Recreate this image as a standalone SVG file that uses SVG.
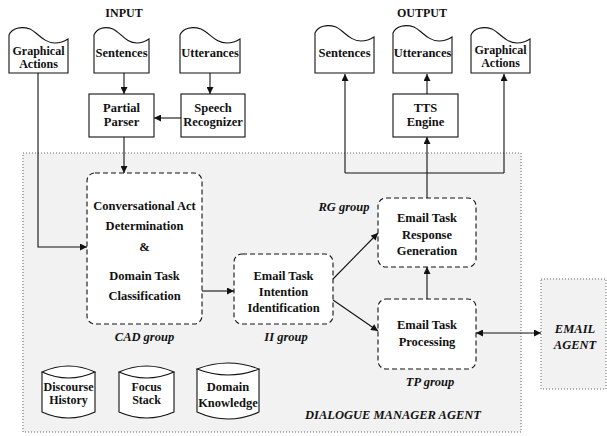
<svg xmlns="http://www.w3.org/2000/svg" width="607" height="436" viewBox="0 0 607 436">
<style>
text{font-family:"Liberation Serif","Times New Roman",serif;font-weight:bold;font-size:12.5px;text-anchor:middle;fill:#111}
.it{font-style:italic}
.hd{font-size:12px}
.sm{font-size:12px}
.doc,.box,.cyl{fill:#fff;stroke:#111;stroke-width:1.1}
.dash{fill:#fff;stroke:#111;stroke-width:1.1;stroke-dasharray:5 3}
.area{fill:#f2f2f2;stroke:#666;stroke-width:1;stroke-dasharray:1 2}
.c{fill:none;stroke:#111;stroke-width:1.1}
.a{marker-end:url(#ah)}
</style>
<defs>
<marker id="ah" viewBox="0 0 10 10" refX="10" refY="5" markerWidth="8" markerHeight="7" markerUnits="userSpaceOnUse" orient="auto"><path d="M0,0 L10,5 L0,10 Z" fill="#111"/></marker>
<marker id="as" viewBox="0 0 10 10" refX="10" refY="5" markerWidth="8" markerHeight="7" markerUnits="userSpaceOnUse" orient="auto-start-reverse"><path d="M0,0 L10,5 L0,10 Z" fill="#111"/></marker>
</defs>

<g id="dialogue-manager-agent">
<rect class="area" x="23" y="153" width="498" height="279"/>
<text class="it" x="393" y="419">DIALOGUE MANAGER AGENT</text>
</g>
<g id="email-agent">
<rect class="area" x="541" y="279" width="65" height="110"/>
<text class="it" x="575" y="333">EMAIL</text>
<text class="it" x="575" y="349">AGENT</text>
</g>

<text class="hd" x="124" y="17">INPUT</text>
<text class="hd" x="422" y="17">OUTPUT</text>

<g id="in-graphical-actions">
<path class="doc" d="M9,73 V35 C12,28 21,26 30,29 C38,33 44,43 55,43 C61,43 65,41 68,39 V73 Z"/>
<text class="sm" x="38.5" y="55">Graphical</text><text class="sm" x="38.5" y="68">Actions</text>
</g>
<g id="in-sentences">
<path class="doc" d="M94,73 V35 C97,28 105,26 113,29 C121,33 126,43 137,43 C142,43 146,41 149,39 V73 Z"/>
<text x="121.5" y="57">Sentences</text>
</g>
<g id="in-utterances">
<path class="doc" d="M180,73 V35 C183,28 192,26 201,29 C210,33 215,43 227,43 C233,43 237,41 240,39 V73 Z"/>
<text x="210" y="57">Utterances</text>
</g>
<g id="out-sentences">
<path class="doc" d="M315,73 V33 C318,26 327,24 336,27 C344,31 350,41 361,41 C367,41 371,39 374,37 V73 Z"/>
<text x="344.5" y="57">Sentences</text>
</g>
<g id="out-utterances">
<path class="doc" d="M393,73 V33 C396,26 405,24 414,27 C422,31 428,41 439,41 C445,41 449,39 452,37 V73 Z"/>
<text x="422.5" y="57">Utterances</text>
</g>
<g id="out-graphical-actions">
<path class="doc" d="M471,73 V35 C474,28 483,26 492,29 C500,33 506,43 517,43 C523,43 527,41 530,39 V73 Z"/>
<text class="sm" x="500.5" y="54">Graphical</text><text class="sm" x="500.5" y="67">Actions</text>
</g>

<g id="partial-parser">
<rect class="box" x="89" y="94" width="65" height="43"/>
<text x="121.5" y="112">Partial</text><text x="121.5" y="126">Parser</text>
</g>
<g id="speech-recognizer">
<rect class="box" x="181" y="94" width="64" height="43"/>
<text x="213" y="112">Speech</text><text x="213" y="126">Recognizer</text>
</g>
<g id="tts-engine">
<rect class="box" x="393" y="94" width="65" height="43"/>
<text x="425.5" y="112">TTS</text><text x="425.5" y="126">Engine</text>
</g>

<g id="cad">
<rect class="dash" x="87" y="173" width="115" height="151" rx="8"/>
<text x="144.5" y="210">Conversational Act</text>
<text x="144.5" y="230">Determination</text>
<text x="144.5" y="251">&amp;</text>
<text x="144.5" y="280">Domain Task</text>
<text x="144.5" y="300">Classification</text>
<text class="it" x="144.5" y="341">CAD group</text>
</g>
<g id="ii">
<rect class="dash" x="234" y="254" width="99" height="70" rx="8"/>
<text x="283.5" y="280">Email Task</text>
<text x="283.5" y="296">Intention</text>
<text x="283.5" y="312">Identification</text>
<text class="it" x="286" y="341">II group</text>
</g>
<g id="rg">
<rect class="dash" x="378" y="198" width="98" height="69" rx="8"/>
<text x="427" y="222">Email Task</text>
<text x="427" y="239">Response</text>
<text x="427" y="255">Generation</text>
<text class="it" x="344" y="211">RG group</text>
</g>
<g id="tp">
<rect class="dash" x="378" y="299" width="98" height="70" rx="8"/>
<text x="427" y="329">Email Task</text>
<text x="427" y="346">Processing</text>
<text class="it" x="430" y="386">TP group</text>
</g>

<g id="discourse-history">
<path class="cyl" d="M42,372 V412 Q68.5,424 95,412 V372"/>
<path class="cyl" d="M42,372 Q68.5,360 95,372 Q68.5,384 42,372 Z"/>
<text class="sm" x="68.5" y="391">Discourse</text><text class="sm" x="68.5" y="404">History</text>
</g>
<g id="focus-stack">
<path class="cyl" d="M119,372 V412 Q146.5,424 174,412 V372"/>
<path class="cyl" d="M119,372 Q146.5,360 174,372 Q146.5,384 119,372 Z"/>
<text class="sm" x="146.5" y="391">Focus</text><text class="sm" x="146.5" y="404">Stack</text>
</g>
<g id="domain-knowledge">
<path class="cyl" d="M197,369 V412 Q228,426 259,412 V369"/>
<path class="cyl" d="M197,369 Q228,357 259,369 Q228,381 197,369 Z"/>
<text x="228" y="391">Domain</text><text x="228" y="407">Knowledge</text>
</g>

<g id="connectors">
<path class="c a" d="M124,73 V94"/>
<path class="c a" d="M210,73 V94"/>
<path class="c a" d="M181,118 H154"/>
<path class="c a" d="M124,137 V173"/>
<path class="c a" d="M38,73 V247 H87"/>
<path class="c a" d="M202,291 H234"/>
<path class="c a" d="M333,279 L378,233"/>
<path class="c a" d="M333,300 L378,331"/>
<path class="c a" d="M427,299 V267"/>
<path class="c a" d="M427,198 V137"/>
<path class="c a" d="M427,94 V74"/>
<path class="c" d="M345,173 H504"/>
<path class="c a" d="M345,173 V74"/>
<path class="c a" d="M504,173 V74"/>
<path class="c" d="M476,333 H541" marker-start="url(#as)" marker-end="url(#ah)"/>
</g>
</svg>
